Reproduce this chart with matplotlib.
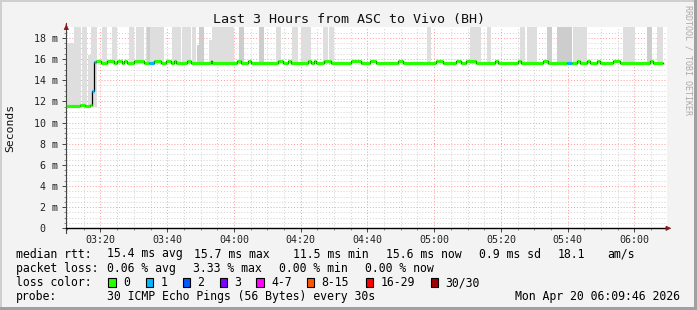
import numpy as np
import pandas as pd
import matplotlib
matplotlib.use('Agg')
import matplotlib.pyplot as plt
import matplotlib.dates as mdates
from matplotlib.patches import Rectangle

plt.rcParams['font.family'] = ['DejaVu Sans Mono']

# time window: last 3 hours
start = pd.Timestamp('2026-04-20 03:09:46')
end = pd.Timestamp('2026-04-20 06:09:46')

# smoke bars (minutes from start, ms); tops above 19 are clipped by the axis
smoke_start = [0.1, 2.3, 4.8, 6.6, 7.5, 10.6, 13.6, 18.8, 20.8, 23.8, 24.3, 26.3, 31.6, 34.8,
               37.8, 39.1, 39.7, 42.8, 43.8, 44.8, 47.9, 51.8, 57.8, 62.9, 67.6, 70.3, 76.8,
               78.8, 108.1, 120.9, 126.1, 135.9, 137.9, 144.1, 147.1, 151.7, 166.7, 173.9, 176.9]
smoke_end = [2.3, 4.3, 6.1, 7.3, 9.3, 12.3, 15.3, 20.3, 23.3, 26.3, 25.1, 29.3, 34.3, 37.3,
             38.8, 39.7, 41.3, 43.8, 44.8, 47.8, 50.3, 53.3, 59.3, 64.3, 69.3, 73.3, 78.3,
             80.3, 109.4, 124.4, 127.4, 137.4, 141.1, 145.4, 151.4, 156.1, 170.4, 175.4, 178.7]
smoke_low = [11.5, 11.5, 11.5, 11.5, 11.5] + [15.5] * 34
smoke_top = [17.5, 25, 25, 16.4, 25, 25, 25, 25, 25, 25, 25, 25, 25, 25,
             25, 17.3, 25, 17.8, 25, 25, 25, 25, 25, 25, 25, 25, 25,
             25, 25, 25, 25, 25, 25, 25, 25, 25, 25, 25, 25]
smoke_dark = [0, 0, 0, 0, 0, 0, 0, 0, 0, 0, 1, 0, 0, 0,
              0, 1, 1, 0, 0, 0, 0, 1, 1, 0, 0, 0, 0,
              0, 0, 0, 0, 0, 0, 1, 1, 0, 0, 1, 0]

# median rtt (step segments, minutes from start, ms) and loss count per segment
median_t = [0, 4, 5.5, 7, 7.7, 8.3, 8.9, 10.3, 12.3, 14.3, 15.3, 16.8, 17.3, 18.3, 20.3, 23.3,
            24.8, 26.3, 28.3, 29.8, 31.3, 32.3, 32.8, 36.3, 37.3, 43.3, 43.8, 51.3, 52.3,
            54.3, 55.3, 63.3, 64.8, 66.3, 67.3, 72.3, 73.3, 74.3, 74.8, 77.3, 79.3, 85.3,
            88.3, 90.9, 92.9, 99.4, 100.9, 110.9, 112.9, 116.9, 118.4, 119.9, 122.9, 128.4,
            129.4, 135.4, 136.4, 142.9, 144.4, 149.9, 151.4, 152.9, 153.9, 155.9, 156.9,
            158.9, 159.9, 163.9, 165.9, 174.9, 175.9, 178.7]
median_v = [11.6, 11.7, 11.6, 11.7, 13.0, 15.7, 15.8, 15.65, 15.8, 15.65, 15.8, 15.65, 15.8,
            15.65, 15.8, 15.65, 15.65, 15.8, 15.65, 15.8, 15.65, 15.8, 15.65, 15.8, 15.65,
            15.8, 15.65, 15.8, 15.65, 15.8, 15.65, 15.8, 15.65, 15.8, 15.65, 15.8, 15.65,
            15.8, 15.65, 15.8, 15.65, 15.8, 15.65, 15.8, 15.65, 15.8, 15.65, 15.8, 15.65,
            15.8, 15.65, 15.8, 15.65, 15.8, 15.65, 15.8, 15.65, 15.8, 15.65, 15.65, 15.65,
            15.8, 15.65, 15.8, 15.65, 15.8, 15.65, 15.8, 15.65, 15.8, 15.65]
median_loss = [0] * len(median_v)
for i in (4, 5, 16, 59):
    median_loss[i] = 1

loss_labels = ['0', '1', '2', '3', '4-7', '8-15', '16-29', '30/30']
loss_colors = ['#26ff00', '#00b8ff', '#0059ff', '#7e00ff', '#ff00ff', '#ff5500', '#ff0000', '#a10000']
loss_label_x = [108, 145.5, 182.5, 219.5, 256, 306.5, 365.5, 430.5]

stats_rtt = ['15.4 ms avg', '15.7 ms max', '11.5 ms min', '15.6 ms now', '0.9 ms sd', '18.1', 'am/s']
stats_rtt_x = [107, 194, 293, 386, 479, 558, 607]
stats_loss = ['0.06 % avg', '3.33 % max', '0.00 % min', '0.00 % now']
stats_loss_x = [107, 193, 279, 365]

W, H = 697, 310
fig = plt.figure(figsize=(W / 100, H / 100), dpi=100)
fig.patch.set_facecolor('#f3f3f3')

def fx(x):
    return x / W

def fy(y):
    return 1 - y / H

# frame around the image
fig.add_artist(Rectangle((0, 0), fx(2), 1, transform=fig.transFigure, color='#cfcfcf', lw=0))
fig.add_artist(Rectangle((0, fy(2)), 1, fx(2) * W / H, transform=fig.transFigure, color='#cfcfcf', lw=0))
fig.add_artist(Rectangle((fx(W - 3), 0), fx(3), 1, transform=fig.transFigure, color='#a0a0a0', lw=0))
fig.add_artist(Rectangle((0, 0), 1, 3 / H, transform=fig.transFigure, color='#a0a0a0', lw=0))

ax = fig.add_axes([fx(66.3), fy(228.3), fx(667 - 66.3), (228.3 - 27.3) / H])
ax.set_facecolor('white')

def to_time(m):
    return start + pd.to_timedelta(m, unit='min')

# smoke
for s, e, lo, hi, d in zip(smoke_start, smoke_end, smoke_low, smoke_top, smoke_dark):
    ax.fill_between([to_time(s), to_time(e)], lo, hi, color='#cdcdcd' if d else '#dedede',
                    lw=0, zorder=2)

# median line: thin black step then coloured segments
mt = [to_time(m) for m in median_t]
ax.step(mt, median_v + [median_v[-1]], where='post', color='black', lw=0.9, zorder=3)
for i, v in enumerate(median_v):
    ax.hlines(v, mt[i], mt[i + 1], color=loss_colors[median_loss[i]], lw=2.3, zorder=4)

ax.set_xlim(start, end)
ax.set_ylim(0, 19)

ax.xaxis.set_major_locator(mdates.MinuteLocator(byminute=[0, 20, 40]))
ax.xaxis.set_minor_locator(mdates.MinuteLocator(byminute=range(0, 60, 5)))
ax.xaxis.set_major_formatter(mdates.DateFormatter('%H:%M'))
ax.set_yticks(np.arange(0, 19, 2))
ax.set_yticks(np.arange(0, 19, 0.5), minor=True)
ax.set_yticklabels(['0  '] + ['%d m' % v for v in range(2, 19, 2)])

ax.grid(which='minor', color='#d0d0d0', linestyle=(0, (1, 2)), lw=0.7, zorder=1)
ax.grid(which='major', color='#ff9a9a', linestyle=(0, (1, 2)), lw=0.7, zorder=1)
ax.set_axisbelow(True)

ax.tick_params(which='both', labelsize=7.2, colors='#222222', pad=3)
ax.tick_params(which='major', length=3, width=0.7, color='#444444')
ax.tick_params(which='minor', length=1.5, width=0.6, color='#777777')
ax.tick_params(axis='x', which='major', pad=2)

for sp in ('top', 'right'):
    ax.spines[sp].set_visible(False)
ax.spines['left'].set_color('#444444')
ax.spines['bottom'].set_color('black')
ax.spines['left'].set_linewidth(0.8)
ax.spines['bottom'].set_linewidth(1.0)
ax.spines['left'].set_bounds(-0.4, 19.4)

# axis arrows
ax.annotate('', xy=(fx(66.3), fy(21.5)), xytext=(fx(66.3), fy(28)), xycoords='figure fraction',
            arrowprops=dict(arrowstyle='-|>', color='#8b1a1a', lw=0.8, mutation_scale=7))
ax.annotate('', xy=(fx(674), fy(228.3)), xytext=(fx(666), fy(228.3)), xycoords='figure fraction',
            arrowprops=dict(arrowstyle='-|>', color='#8b1a1a', lw=0.8, mutation_scale=7))

# title and side texts
fig.text(fx(349), fy(19), 'Last 3 Hours from ASC to Vivo (BH)', ha='center', va='center',
         fontsize=9.6, color='#111111')
fig.text(fx(10), fy(128), 'Seconds', rotation=90, ha='center', va='center', fontsize=8.2,
         color='#111111')
fig.text(fx(688), fy(60), 'RRDTOOL / TOBI OETIKER', rotation=-90, ha='center', va='center',
         fontsize=6, color='#aaaaaa')

# legend rows
fs = 8.3
row_y = [254, 268.5, 282.5, 296.5]
fig.text(fx(16), fy(row_y[0]), 'median rtt:', va='center', fontsize=fs)
for s, x in zip(stats_rtt, stats_rtt_x):
    fig.text(fx(x), fy(row_y[0]), s, va='center', fontsize=fs)
fig.text(fx(16), fy(row_y[1]), 'packet loss:', va='center', fontsize=fs)
for s, x in zip(stats_loss, stats_loss_x):
    fig.text(fx(x), fy(row_y[1]), s, va='center', fontsize=fs)
fig.text(fx(16), fy(row_y[2]), 'loss color:', va='center', fontsize=fs)
for lab, col, x in zip(loss_labels, loss_colors, loss_label_x):
    fig.add_artist(Rectangle((fx(x), fy(row_y[2] + 4.5)), fx(7.5), 9 / H,
                             transform=fig.transFigure, facecolor=col, edgecolor='black', lw=0.8))
    fig.text(fx(x + 15), fy(row_y[2]), lab, va='center', fontsize=fs)
fig.text(fx(16), fy(row_y[3]), 'probe:', va='center', fontsize=fs)
fig.text(fx(107), fy(row_y[3]), '30 ICMP Echo Pings (56 Bytes) every 30s', va='center', fontsize=fs)
fig.text(fx(680), fy(row_y[3]), 'Mon Apr 20 06:09:46 2026', ha='right', va='center', fontsize=fs)

fig.savefig('out.png', dpi=100, facecolor=fig.get_facecolor())
